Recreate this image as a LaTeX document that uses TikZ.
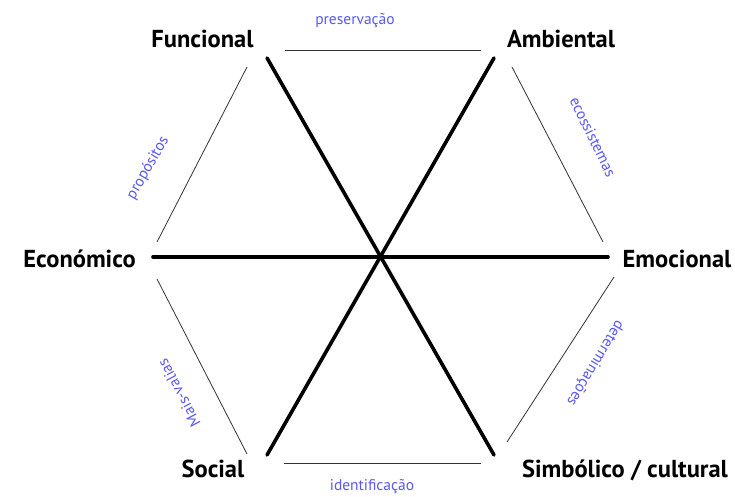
\documentclass[tikz,border=0pt]{standalone}
\usepackage{fontspec}
\setmainfont{PT Sans}
\usepackage{xcolor}
\definecolor{labelblue}{RGB}{88,88,245}

\begin{document}
\begin{tikzpicture}[x=1pt,y=-1pt,
        axis/.style={line width=3.6pt, line cap=round},
        rim/.style={line width=0.8pt, black!80},
        pole/.style={font=\fontsize{24.5}{24.5}\selectfont\bfseries, anchor=base, inner sep=0pt},
        link/.style={font=\fontsize{15.5}{15.5}\selectfont, text=labelblue, inner sep=0pt}]
        \useasboundingbox (0,0) rectangle (735,497);

        % ends of the three axes
        \coordinate (O) at (380,257);
        \coordinate (Fun) at (267,58);
        \coordinate (Sim) at (494,455);
        \coordinate (Amb) at (494,58);
        \coordinate (Soc) at (267,455);
        \coordinate (Eco) at (153,257);
        \coordinate (Emo) at (608,257);

        % ends of the rim segments
        \coordinate (T1) at (285,50);
        \coordinate (T2) at (481,50);
        \coordinate (R1) at (512,67);
        \coordinate (R2) at (603,242);
        \coordinate (R3) at (614,277);
        \coordinate (R4) at (507,442);
        \coordinate (B1) at (481,463);
        \coordinate (B2) at (284,463);
        \coordinate (L1) at (247,454);
        \coordinate (L2) at (157,279);
        \coordinate (L3) at (157,242);
        \coordinate (L4) at (247,67);

        \draw[axis] (Fun) -- (Sim);
        \draw[axis] (Amb) -- (Soc);
        \draw[axis] (Eco) -- (Emo);

        \draw[rim] (T1) -- (T2);
        \draw[rim] (R1) -- (R2);
        \draw[rim] (R3) -- (R4);
        \draw[rim] (B1) -- (B2);
        \draw[rim] (L1) -- (L2);
        \draw[rim] (L3) -- (L4);

        \node[link] (pres) at (355,21) {preservação};
        \node[link] (iden) at (372,487) {identificação};
        \node[link, rotate=-64] (ecos) at (593,137) {ecossistemas};
        \node[link, rotate=-121] (dete) at (595,363) {determinações};
        \node[link, rotate=118] (mais) at (179,393) {Mais-valias};
        \node[link, rotate=60] (prop) at (148,168) {propósitos};

        \node[pole] (fun) at (202.5,48) {Funcional};
        \node[pole] (amb) at (561,48) {Ambiental};
        \node[pole] (eco) at (79.5,267) {Económico};
        \node[pole] (emo) at (677,267) {Emocional};
        \node[pole] (soc) at (213,477) {Social};
        \node[pole] (sim) at (625,477) {Simbólico / cultural};
    \end{tikzpicture}
\end{document}
